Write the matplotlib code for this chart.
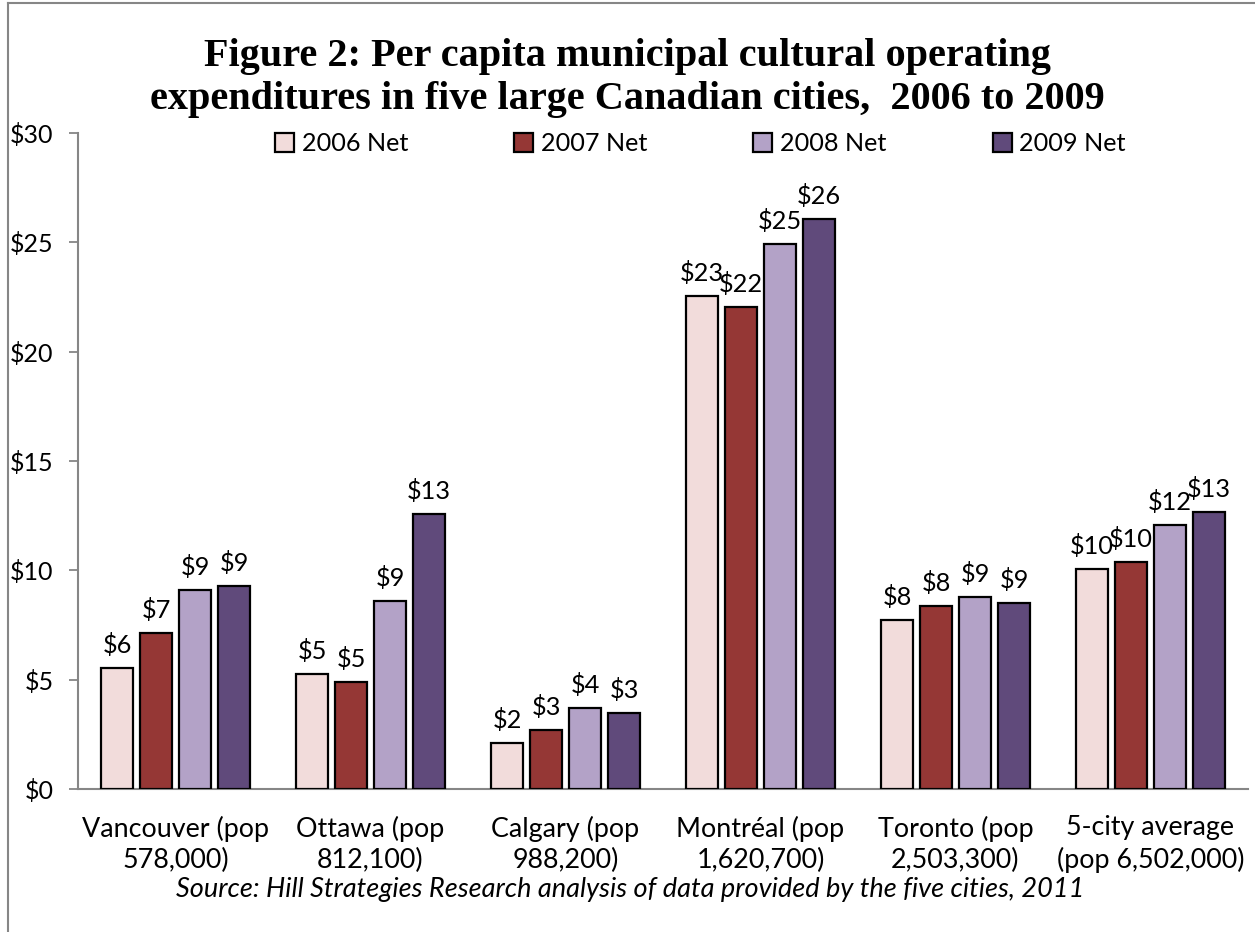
import matplotlib.pyplot as plt
import numpy as np
from matplotlib.lines import Line2D

# data
cities = ['Vancouver (pop\n578,000)', 'Ottawa (pop\n812,100)', 'Calgary (pop\n988,200)',
          'Montréal (pop\n1,620,700)', 'Toronto (pop\n2,503,300)', '5-city average\n(pop 6,502,000)']
years = ['2006 Net', '2007 Net', '2008 Net', '2009 Net']
net_2006 = [5.52, 5.24, 2.10, 22.55, 7.73, 10.06]
net_2007 = [7.12, 4.88, 2.70, 22.05, 8.37, 10.38]
net_2008 = [9.10, 8.61, 3.70, 24.93, 8.78, 12.07]
net_2009 = [9.30, 12.57, 3.47, 26.05, 8.52, 12.67]
colors = ['#F2DCDB', '#953735', '#B3A2C7', '#604A7B']

sans = ['Lato', 'DejaVu Sans']
plt.rcParams['font.family'] = sans

fig = plt.figure(figsize=(12.55, 9.32), dpi=100)
ax = fig.add_axes([0.0622, 0.1534, 0.9322, 0.7039])

x = np.arange(len(cities))
series = [net_2006, net_2007, net_2008, net_2009]
for i, vals in enumerate(series):
    bars = ax.bar(x + (i - 1.5) * 0.2, vals, width=0.162, color=colors[i],
                  edgecolor='black', linewidth=1.6, label=years[i], zorder=3)
    for b, v in zip(bars, vals):
        ax.annotate('$%.0f' % v, (b.get_x() + b.get_width() / 2, v), xytext=(0, 8),
                    textcoords='offset points', ha='center', va='bottom', fontsize=18.3)

ax.set_xlim(-0.5, 5.5)
ax.set_ylim(0, 30)
ax.set_yticks(range(0, 31, 5))
ax.set_yticklabels(['$%d' % t for t in range(0, 31, 5)], fontsize=18)
ax.set_xticks(x)
ax.set_xticklabels(cities, fontsize=19.4, linespacing=1.3)
ax.tick_params(axis='x', length=0, pad=19)
ax.tick_params(axis='y', length=6.5, width=1.3, color='#868686', pad=11)
for s in ['top', 'right']:
    ax.spines[s].set_visible(False)
for s in ['left', 'bottom']:
    ax.spines[s].set_color('#868686')
    ax.spines[s].set_linewidth(1.5)

ax.legend(loc='upper center', bbox_to_anchor=(0.532, 1.036), ncol=4, frameon=False,
          fontsize=18.2, handlelength=0.75, handleheight=0.75, handletextpad=0.3,
          columnspacing=4.2)

fig.text(0.5, 0.916, 'Figure 2: Per capita municipal cultural operating\n'
         'expenditures in five large Canadian cities,  2006 to 2009',
         ha='center', va='center', fontsize=29, fontweight='bold',
         family='Liberation Serif', linespacing=1.2)
fig.text(0.502, 0.046, 'Source: Hill Strategies Research analysis of data provided by the five cities, 2011',
         ha='center', va='center', fontsize=19.5, style='italic')

# outer chart frame (left and top edges visible)
fig.add_artist(Line2D([8 / 1255, 8 / 1255], [0, 1 - 3 / 932], color='#868686', lw=1.5))
fig.add_artist(Line2D([8 / 1255, 1], [1 - 3 / 932, 1 - 3 / 932], color='#868686', lw=1.5))

fig.savefig('out.png', dpi=100)
